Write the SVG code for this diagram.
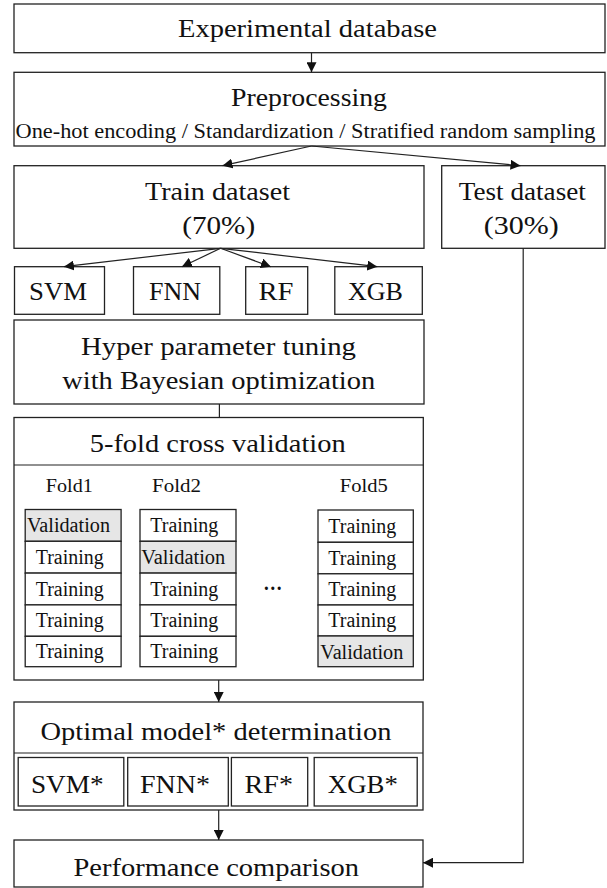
<svg xmlns="http://www.w3.org/2000/svg" width="607" height="888" viewBox="0 0 607 888">
<defs>
<style>
.b{fill:#fff;stroke:#222;stroke-width:1.3}
.g{fill:#e6e6e6;stroke:#222;stroke-width:1.3}
.c{fill:none;stroke:#222;stroke-width:1.2}
text{fill:#111;text-anchor:middle}
.t{font-size:26px}
.s{font-size:20px}
.f{font-size:19px}
.r{font-size:20px}
</style>
<marker id="ah" viewBox="0 0 10 10" refX="10" refY="5" markerWidth="10" markerHeight="10" orient="auto" markerUnits="userSpaceOnUse"><path d="M0,0 L10,5 L0,10 z" fill="#111"/></marker>
</defs>
<rect width="607" height="888" fill="#fff"/>
<g font-family="Liberation Serif, Times New Roman, serif">
<g id="experimental-database">
<rect class="b" x="14" y="4" width="591" height="48.7"/>
<text class="t" x="307.5" y="37.3" textLength="259" lengthAdjust="spacingAndGlyphs">Experimental  database</text>
</g>

<g id="preprocessing">
<rect class="b" x="14" y="72.3" width="591" height="73.7"/>
<text class="t" x="309" y="106" textLength="156" lengthAdjust="spacingAndGlyphs">Preprocessing</text>
<text class="s" x="305.5" y="137.5" textLength="580" lengthAdjust="spacingAndGlyphs">One-hot encoding  / Standardization  / Stratified  random sampling</text>
</g>

<g id="train-dataset">
<rect class="b" x="14" y="165.7" width="410" height="82.6"/>
<text class="t" x="217.5" y="200" textLength="145" lengthAdjust="spacingAndGlyphs">Train dataset</text>
<text class="t" x="218.7" y="234" textLength="73" lengthAdjust="spacingAndGlyphs">(70%)</text>
</g>

<g id="test-dataset">
<rect class="b" x="441.7" y="165.7" width="163.3" height="82.6"/>
<text class="t" x="522.3" y="200" textLength="127" lengthAdjust="spacingAndGlyphs">Test dataset</text>
<text class="t" x="521.3" y="234" textLength="75" lengthAdjust="spacingAndGlyphs">(30%)</text>
</g>

<g id="svm">
<rect class="b" x="14.5" y="266.7" width="90" height="47.6"/>
<text class="t" x="58" y="300" textLength="58" lengthAdjust="spacingAndGlyphs">SVM</text>
</g>
<g id="fnn">
<rect class="b" x="133.5" y="266.7" width="86.3" height="47.6"/>
<text class="t" x="175" y="300" textLength="52" lengthAdjust="spacingAndGlyphs">FNN</text>
</g>
<g id="rf">
<rect class="b" x="245.7" y="266.7" width="62" height="47.6"/>
<text class="t" x="276" y="300" textLength="35" lengthAdjust="spacingAndGlyphs">RF</text>
</g>
<g id="xgb">
<rect class="b" x="334.8" y="266.7" width="87.5" height="47.6"/>
<text class="t" x="375.5" y="300" textLength="55" lengthAdjust="spacingAndGlyphs">XGB</text>
</g>

<g id="hyperparameter-tuning">
<rect class="b" x="14" y="320" width="410" height="84"/>
<text class="t" x="218.5" y="355" textLength="275" lengthAdjust="spacingAndGlyphs">Hyper  parameter  tuning</text>
<text class="t" x="218.7" y="388.5" textLength="313" lengthAdjust="spacingAndGlyphs">with Bayesian  optimization</text>
</g>

<g id="cross-validation">
<rect class="b" x="14" y="417.5" width="409.3" height="262.5"/>
<line class="c" x1="14" y1="465" x2="423.3" y2="465"/>
<text class="t" x="217.7" y="452" textLength="256" lengthAdjust="spacingAndGlyphs">5-fold cross validation</text>
<text class="f" x="69.3" y="491.5" textLength="47" lengthAdjust="spacingAndGlyphs">Fold1</text>
<text class="f" x="176.5" y="491.5" textLength="49" lengthAdjust="spacingAndGlyphs">Fold2</text>
<text class="f" x="363.8" y="491.5" textLength="48" lengthAdjust="spacingAndGlyphs">Fold5</text>

<g id="fold1">
<rect class="g" x="25.2" y="509.5" width="95.9" height="31.8"/>
<rect class="b" x="25.2" y="541.3" width="95.9" height="31.8"/>
<rect class="b" x="25.2" y="573.1" width="95.9" height="31.8"/>
<rect class="b" x="25.2" y="604.9" width="95.9" height="31.4"/>
<rect class="b" x="25.2" y="636.3" width="95.9" height="30.4"/>
<text class="r" x="68.5" y="532" textLength="83" lengthAdjust="spacingAndGlyphs">Validation</text>
<text class="r" x="69.7" y="564" textLength="68" lengthAdjust="spacingAndGlyphs">Training</text>
<text class="r" x="69.7" y="596" textLength="68" lengthAdjust="spacingAndGlyphs">Training</text>
<text class="r" x="69.7" y="627" textLength="68" lengthAdjust="spacingAndGlyphs">Training</text>
<text class="r" x="69.7" y="658" textLength="68" lengthAdjust="spacingAndGlyphs">Training</text>
</g>

<g id="fold2">
<rect class="b" x="140" y="509.5" width="96" height="31.8"/>
<rect class="g" x="140" y="541.3" width="96" height="31.8"/>
<rect class="b" x="140" y="573.1" width="96" height="31.8"/>
<rect class="b" x="140" y="604.9" width="96" height="31.4"/>
<rect class="b" x="140" y="636.3" width="96" height="30.4"/>
<text class="r" x="184.3" y="532" textLength="68" lengthAdjust="spacingAndGlyphs">Training</text>
<text class="r" x="183.3" y="564" textLength="84" lengthAdjust="spacingAndGlyphs">Validation</text>
<text class="r" x="184.3" y="596" textLength="68" lengthAdjust="spacingAndGlyphs">Training</text>
<text class="r" x="184.3" y="627" textLength="68" lengthAdjust="spacingAndGlyphs">Training</text>
<text class="r" x="184.3" y="658" textLength="68" lengthAdjust="spacingAndGlyphs">Training</text>
</g>

<text x="272.8" y="590" style="font-size:20px;font-weight:bold" textLength="19" lengthAdjust="spacingAndGlyphs">…</text>

<g id="fold5">
<rect class="b" x="318" y="510" width="95.3" height="32.3"/>
<rect class="b" x="318" y="542.3" width="95.3" height="31.5"/>
<rect class="b" x="318" y="573.8" width="95.3" height="31.2"/>
<rect class="b" x="318" y="605" width="95.3" height="31"/>
<rect class="g" x="318" y="636" width="95.3" height="30.7"/>
<text class="r" x="362.3" y="533" textLength="68" lengthAdjust="spacingAndGlyphs">Training</text>
<text class="r" x="362.3" y="564.5" textLength="68" lengthAdjust="spacingAndGlyphs">Training</text>
<text class="r" x="362.3" y="596" textLength="68" lengthAdjust="spacingAndGlyphs">Training</text>
<text class="r" x="362.3" y="627" textLength="68" lengthAdjust="spacingAndGlyphs">Training</text>
<text class="r" x="361.8" y="658.5" textLength="83" lengthAdjust="spacingAndGlyphs">Validation</text>
</g>
</g>

<g id="optimal-model">
<rect class="b" x="14" y="702" width="409" height="108"/>
<line class="c" x1="14" y1="753" x2="423" y2="753"/>
<text class="t" x="216" y="739.5" textLength="351" lengthAdjust="spacingAndGlyphs">Optimal  model*  determination</text>
<g id="svm-star">
<rect class="b" x="18.2" y="757.5" width="105.6" height="48.5"/>
<text class="t" x="67.3" y="793" textLength="72.7" lengthAdjust="spacingAndGlyphs">SVM*</text>
</g>
<g id="fnn-star">
<rect class="b" x="127.7" y="757.5" width="100.6" height="48.5"/>
<text class="t" x="175" y="793" textLength="70" lengthAdjust="spacingAndGlyphs">FNN*</text>
</g>
<g id="rf-star">
<rect class="b" x="231.4" y="757.5" width="76.3" height="48.5"/>
<text class="t" x="268.8" y="793" textLength="48.4" lengthAdjust="spacingAndGlyphs">RF*</text>
</g>
<g id="xgb-star">
<rect class="b" x="314.2" y="757.5" width="103" height="48.5"/>
<text class="t" x="362.8" y="793" textLength="70" lengthAdjust="spacingAndGlyphs">XGB*</text>
</g>
</g>

<g id="performance-comparison">
<rect class="b" x="14" y="840" width="409" height="47"/>
<text class="t" x="216.3" y="876" textLength="285.6" lengthAdjust="spacingAndGlyphs">Performance  comparison</text>
</g>
</g>
<g id="connectors">
<line class="c" x1="311.5" y1="52.7" x2="311.5" y2="72.3" marker-end="url(#ah)"/>
<line class="c" x1="311.5" y1="146" x2="222.5" y2="165.7" marker-end="url(#ah)"/>
<line class="c" x1="311.5" y1="146" x2="520.5" y2="165.7" marker-end="url(#ah)"/>
<line class="c" x1="220.6" y1="248.3" x2="63.9" y2="266.7" marker-end="url(#ah)"/>
<line class="c" x1="220.6" y1="248.3" x2="181.9" y2="266.7" marker-end="url(#ah)"/>
<line class="c" x1="220.6" y1="248.3" x2="270.9" y2="266.7" marker-end="url(#ah)"/>
<line class="c" x1="220.6" y1="248.3" x2="377.3" y2="266.7" marker-end="url(#ah)"/>
<line class="c" x1="219.4" y1="404" x2="219.4" y2="417.5"/>
<line class="c" x1="218.7" y1="680" x2="218.7" y2="702" marker-end="url(#ah)"/>
<line class="c" x1="218.7" y1="810" x2="218.7" y2="840" marker-end="url(#ah)"/>
<polyline class="c" points="523.2,248.3 523.2,862.7 423,862.7" marker-end="url(#ah)"/>
</g>
</svg>
